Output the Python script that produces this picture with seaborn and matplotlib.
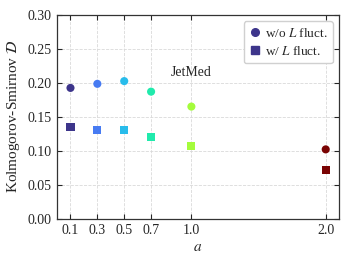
import numpy as np
import pandas as pd
import matplotlib
matplotlib.use("Agg")
import matplotlib.pyplot as plt
from matplotlib.lines import Line2D
import seaborn as sns

# values
a_vals = [0.1, 0.3, 0.5, 0.7, 1.0, 2.0]
d_no_fluct = [0.1925, 0.1985, 0.2025, 0.187, 0.165, 0.102]
d_fluct = [0.135, 0.131, 0.130, 0.120, 0.107, 0.0715]
x_ticks = [0.1, 0.3, 0.5, 0.7, 1.0, 2.0]
series_names = ["w/o $L$ fluct.", "w/ $L$ fluct."]

sns.set_style("ticks")
plt.rcParams["font.family"] = ["Liberation Serif", "DejaVu Serif"]
plt.rcParams["mathtext.fontset"] = "stix"

df = pd.DataFrame({
    "a": a_vals * 2,
    "D": d_no_fluct + d_fluct,
    "series": [series_names[0]] * len(a_vals) + [series_names[1]] * len(a_vals),
})

cmap = plt.get_cmap("turbo")
palette = {a: cmap(a / 2.0) for a in a_vals}

fig = plt.figure(figsize=(3.5, 2.66), dpi=100)
ax = fig.add_axes([0.163, 0.178, 0.806, 0.766])

sns.scatterplot(
    data=df, x="a", y="D", hue="a", style="series",
    palette=palette,
    markers={series_names[0]: "o", series_names[1]: "s"},
    s=34, linewidth=0, legend=False, ax=ax, zorder=3,
)

ax.set_xlim(0, 2.1)
ax.set_ylim(0, 0.30)
ax.set_xticks(x_ticks)
ax.set_xticklabels([f"{t:.1f}" for t in x_ticks])
ax.set_yticks(np.arange(0, 0.31, 0.05))
ax.set_yticklabels([f"{t:.2f}" for t in np.arange(0, 0.31, 0.05)])
ax.tick_params(direction="in", top=True, right=True, labelsize=10, length=3.5,
               width=0.8, pad=4)
ax.grid(True, linestyle="--", color="#d9d9d9", linewidth=0.6)
ax.set_axisbelow(True)
for sp in ax.spines.values():
    sp.set_linewidth(0.9)
    sp.set_color("#333333")

ax.set_xlabel("$a$", fontsize=11, labelpad=3)
ax.set_ylabel("Kolmogorov-Smirnov $\\mathcal{D}$", fontsize=11, labelpad=4)
ax.text(1.0, 0.215, "JetMed", ha="center", va="center", fontsize=10)

c0 = cmap(0.05)
handles = [
    Line2D([], [], marker="o", linestyle="", color=c0, markersize=5.5),
    Line2D([], [], marker="s", linestyle="", color=c0, markersize=5.5),
]
ax.legend(handles, series_names, loc="upper right", fontsize=9.5,
          handletextpad=0.2, handlelength=1.0, borderpad=0.4,
          labelspacing=0.4, frameon=True, edgecolor="#d0d0d0",
          framealpha=1.0)

plt.savefig("out.png", dpi=100)
